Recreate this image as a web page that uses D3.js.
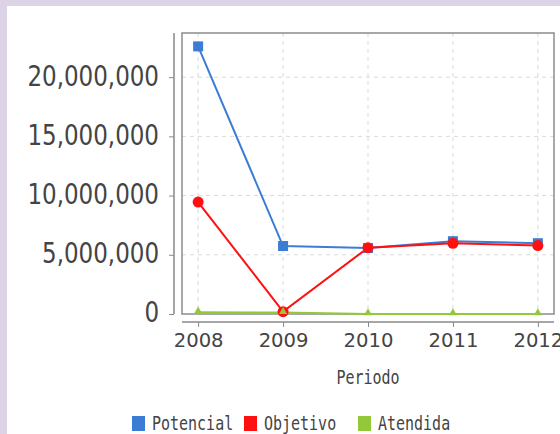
<!DOCTYPE html>
<html>
<head>
<meta charset="utf-8">
<script src="https://cdn.jsdelivr.net/npm/d3@7"></script>
<style>
  body { margin: 0; background: #dcd3e6; }
  svg { display: block; }
</style>
</head>
<body>
<div class="chart-container"></div>
<script>
// data
const years = [2008, 2009, 2010, 2011, 2012];
const potencial = [22600000, 5740000, 5570000, 6150000, 5980000];
const objetivo = [9450000, 200000, 5600000, 5970000, 5780000];
const atendida = [150000, 120000, 10000, 5000, 5000];
const yTicks = [0, 5000000, 10000000, 15000000, 20000000];
const seriesNames = ["Potencial", "Objetivo", "Atendida"];
const seriesColors = ["#3b7dd3", "#ff1010", "#92c83a"];

const W = 560, H = 434;
// plot box
const box = {left: 182, top: 33, right: 554, bottom: 314};

const svg = d3.select(".chart-container")
    .append("svg")
    .attr("width", W)
    .attr("height", H);

// white panel over the lavender border
svg.append("rect")
    .attr("x", 7).attr("y", 6)
    .attr("width", W - 7).attr("height", H - 6)
    .attr("fill", "#fff");

const x = d3.scalePoint()
    .domain(years)
    .range([box.left, box.right])
    .padding(0.19);

const y = d3.scaleLinear()
    .domain([0, 23730000])
    .range([box.bottom, box.top]);

// grid
svg.append("g")
    .selectAll("line")
    .data(years)
    .join("line")
    .attr("x1", d => x(d)).attr("x2", d => x(d))
    .attr("y1", box.top).attr("y2", box.bottom)
    .attr("stroke", "#dadada")
    .attr("stroke-dasharray", "4,4");

svg.append("g")
    .selectAll("line")
    .data(yTicks.slice(1))
    .join("line")
    .attr("x1", box.left).attr("x2", box.right)
    .attr("y1", d => y(d)).attr("y2", d => y(d))
    .attr("stroke", "#dadada")
    .attr("stroke-dasharray", "4,4");

// box outline
svg.append("rect")
    .attr("x", box.left).attr("y", box.top)
    .attr("width", box.right - box.left)
    .attr("height", box.bottom - box.top)
    .attr("fill", "none")
    .attr("stroke", "#8c8c8c")
    .attr("stroke-width", 1.5);

// y axis, offset to the left of the box
const yAxis = svg.append("g")
    .attr("transform", "translate(174,0)")
    .call(d3.axisLeft(y).tickValues(yTicks).tickSize(5).tickPadding(10)
        .tickFormat(d3.format(",")));
yAxis.select(".domain").attr("stroke", "#888").attr("stroke-width", 1.5)
    .attr("d", "M0," + box.top + "V" + box.bottom);
yAxis.selectAll(".tick line").attr("stroke", "#888");
yAxis.selectAll(".tick text")
    .attr("font-family", "DejaVu Sans")
    .attr("font-size", "23px")
    .attr("fill", "#444")
    .attr("dy", null)
    .attr("dominant-baseline", "central")
    .attr("transform", function() {
        return "translate(0,-2) scale(1,1.25)";
    })
    .attr("y", function() { return 0; });

// x axis, offset below the box
const xAxis = svg.append("g")
    .attr("transform", "translate(0,322)")
    .call(d3.axisBottom(x).tickSize(5).tickPadding(6).tickSizeOuter(0));
xAxis.select(".domain").attr("stroke", "#888").attr("stroke-width", 1.5)
    .attr("d", "M" + box.left + ",0H" + box.right);
xAxis.selectAll(".tick line").attr("stroke", "#888");
xAxis.selectAll(".tick text")
    .attr("font-family", "DejaVu Sans")
    .attr("font-size", "19.6px")
    .attr("fill", "#444");

// axis title
svg.append("text")
    .attr("transform", "translate(" + ((box.left + box.right) / 2) + ",384) scale(1,1.3)")
    .attr("text-anchor", "middle")
    .attr("font-family", "DejaVu Sans Mono")
    .attr("font-size", "15px")
    .attr("fill", "#444")
    .text("Periodo");

// lines
const allSeries = [potencial, objetivo, atendida];
const line = d3.line()
    .x((d, i) => x(years[i]))
    .y(d => y(d));

svg.append("g")
    .selectAll("path")
    .data(allSeries)
    .join("path")
    .attr("d", d => line(d))
    .attr("fill", "none")
    .attr("stroke", (d, i) => seriesColors[i])
    .attr("stroke-width", 2);

// markers
svg.append("g")
    .selectAll("rect")
    .data(potencial)
    .join("rect")
    .attr("x", (d, i) => x(years[i]) - 5)
    .attr("y", d => y(d) - 5)
    .attr("width", 10).attr("height", 10)
    .attr("fill", seriesColors[0]);

svg.append("g")
    .selectAll("circle")
    .data(objetivo)
    .join("circle")
    .attr("cx", (d, i) => x(years[i]))
    .attr("cy", d => y(d))
    .attr("r", 5.5)
    .attr("fill", seriesColors[1]);

svg.append("g")
    .selectAll("path")
    .data(atendida)
    .join("path")
    .attr("d", d3.symbol().type(d3.symbolTriangle).size(28))
    .attr("transform", (d, i) => "translate(" + x(years[i]) + "," + (y(d) - 1) + ")")
    .attr("fill", seriesColors[2]);

// legend
const legendX = [132, 244, 358];
const legend = svg.append("g")
    .selectAll("g")
    .data(seriesNames)
    .join("g")
    .attr("transform", (d, i) => "translate(" + legendX[i] + ",416)");

legend.append("rect")
    .attr("width", 13).attr("height", 15)
    .attr("fill", (d, i) => seriesColors[i]);

legend.append("text")
    .attr("transform", "translate(20,14) scale(1,1.3)")
    .attr("font-family", "DejaVu Sans Mono")
    .attr("font-size", "15px")
    .attr("fill", "#444")
    .text(d => d);
</script>
</body>
</html>
